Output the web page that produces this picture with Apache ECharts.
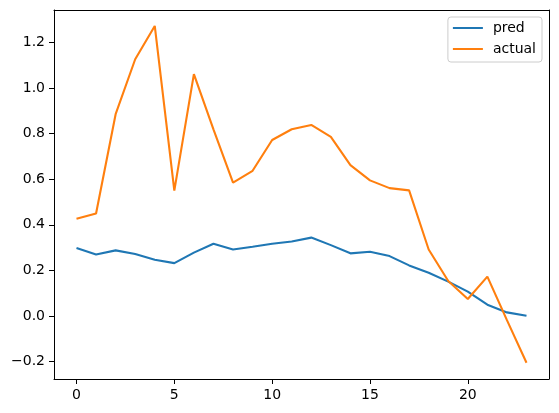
<!DOCTYPE html>
<html>
<head>
<meta charset="utf-8">
<script src="https://cdn.jsdelivr.net/npm/echarts@6/dist/echarts.min.js"></script>
<style>
    html, body {margin: 0; padding: 0; background: #fff;}
    #chart {width: 559px; height: 413px;}
</style>
</head>
<body>
<div id="chart"></div>
<script>
// values
const steps = [0, 1, 2, 3, 4, 5, 6, 7, 8, 9, 10, 11, 12, 13, 14, 15, 16, 17, 18, 19, 20, 21, 22, 23];
const pred = [0.298, 0.270, 0.288, 0.272, 0.247, 0.232, 0.278, 0.317, 0.292, 0.304, 0.317, 0.327,
    0.344, 0.311, 0.275, 0.282, 0.263, 0.222, 0.190, 0.151, 0.107, 0.050, 0.016, 0.001];
const actual = [0.427, 0.450, 0.885, 1.126, 1.272, 0.550, 1.061, 0.819, 0.585, 0.637, 0.772, 0.819,
    0.838, 0.786, 0.662, 0.595, 0.561, 0.551, 0.292, 0.154, 0.075, 0.173, -0.018, -0.205];
const xTicks = [0, 5, 10, 15, 20];
const yTicks = [-0.2, 0.0, 0.2, 0.4, 0.6, 0.8, 1.0, 1.2];

const X_MIN = -1.15, X_MAX = 24.15;
const Y_MIN = -0.276, Y_MAX = 1.342;

function pairs(ys) {
    return steps.map(function (x, i) {
        return [x, ys[i]];
    });
}

function drawChart(divId) {
    const myChart = echarts.init(document.getElementById(divId));
    const font = 'DejaVu Sans';
    const spine = {show: true, onZero: false, lineStyle: {color: '#000', width: 1}};
    const option = {
        animation: false,
        textStyle: {fontFamily: font},
        grid: {
            left: 54,
            right: 10,
            top: 10,
            bottom: 34
        },
        legend: {
            orient: 'vertical',
            right: 17,
            top: 17,
            padding: [3, 6, 5, 5],
            itemGap: 5,
            itemWidth: 30,
            itemHeight: 2,
            icon: 'rect',
            borderColor: '#cccccc',
            borderWidth: 1,
            borderRadius: 3,
            backgroundColor: '#fff',
            textStyle: {
                fontFamily: font,
                fontSize: 14,
                lineHeight: 16,
                color: '#000',
                padding: [0, 0, 0, 5]
            },
            data: ['pred', 'actual']
        },
        xAxis: [
            {
                type: 'value',
                min: X_MIN,
                max: X_MAX,
                splitLine: {show: false},
                axisLine: spine,
                axisTick: {show: true, length: 5, customValues: xTicks, lineStyle: {color: '#000'}},
                axisLabel: {
                    customValues: xTicks,
                    margin: 9,
                    fontSize: 14,
                    fontFamily: font,
                    color: '#000'
                }
            },
            {
                // top spine only
                type: 'value',
                position: 'top',
                min: X_MIN,
                max: X_MAX,
                splitLine: {show: false},
                axisLine: spine,
                axisTick: {show: false},
                axisLabel: {show: false}
            }
        ],
        yAxis: [
            {
                type: 'value',
                min: Y_MIN,
                max: Y_MAX,
                splitLine: {show: false},
                axisLine: spine,
                axisTick: {show: true, length: 5, customValues: yTicks, lineStyle: {color: '#000'}},
                axisLabel: {
                    customValues: yTicks,
                    margin: 9,
                    fontSize: 14,
                    fontFamily: font,
                    color: '#000',
                    formatter: function (v) {
                        return v.toFixed(1).replace('-', '\u2212');
                    }
                }
            },
            {
                // right spine only
                type: 'value',
                position: 'right',
                min: Y_MIN,
                max: Y_MAX,
                splitLine: {show: false},
                axisLine: spine,
                axisTick: {show: false},
                axisLabel: {show: false}
            }
        ],
        series: [
            {
                name: 'pred',
                type: 'line',
                data: pairs(pred),
                showSymbol: false,
                symbol: 'none',
                color: '#1f77b4',
                lineStyle: {width: 2.1, color: '#1f77b4'}
            },
            {
                name: 'actual',
                type: 'line',
                data: pairs(actual),
                showSymbol: false,
                symbol: 'none',
                color: '#ff7f0e',
                lineStyle: {width: 2.1, color: '#ff7f0e'}
            }
        ]
    };
    myChart.setOption(option);
    return myChart;
}

drawChart('chart');
</script>
</body>
</html>
